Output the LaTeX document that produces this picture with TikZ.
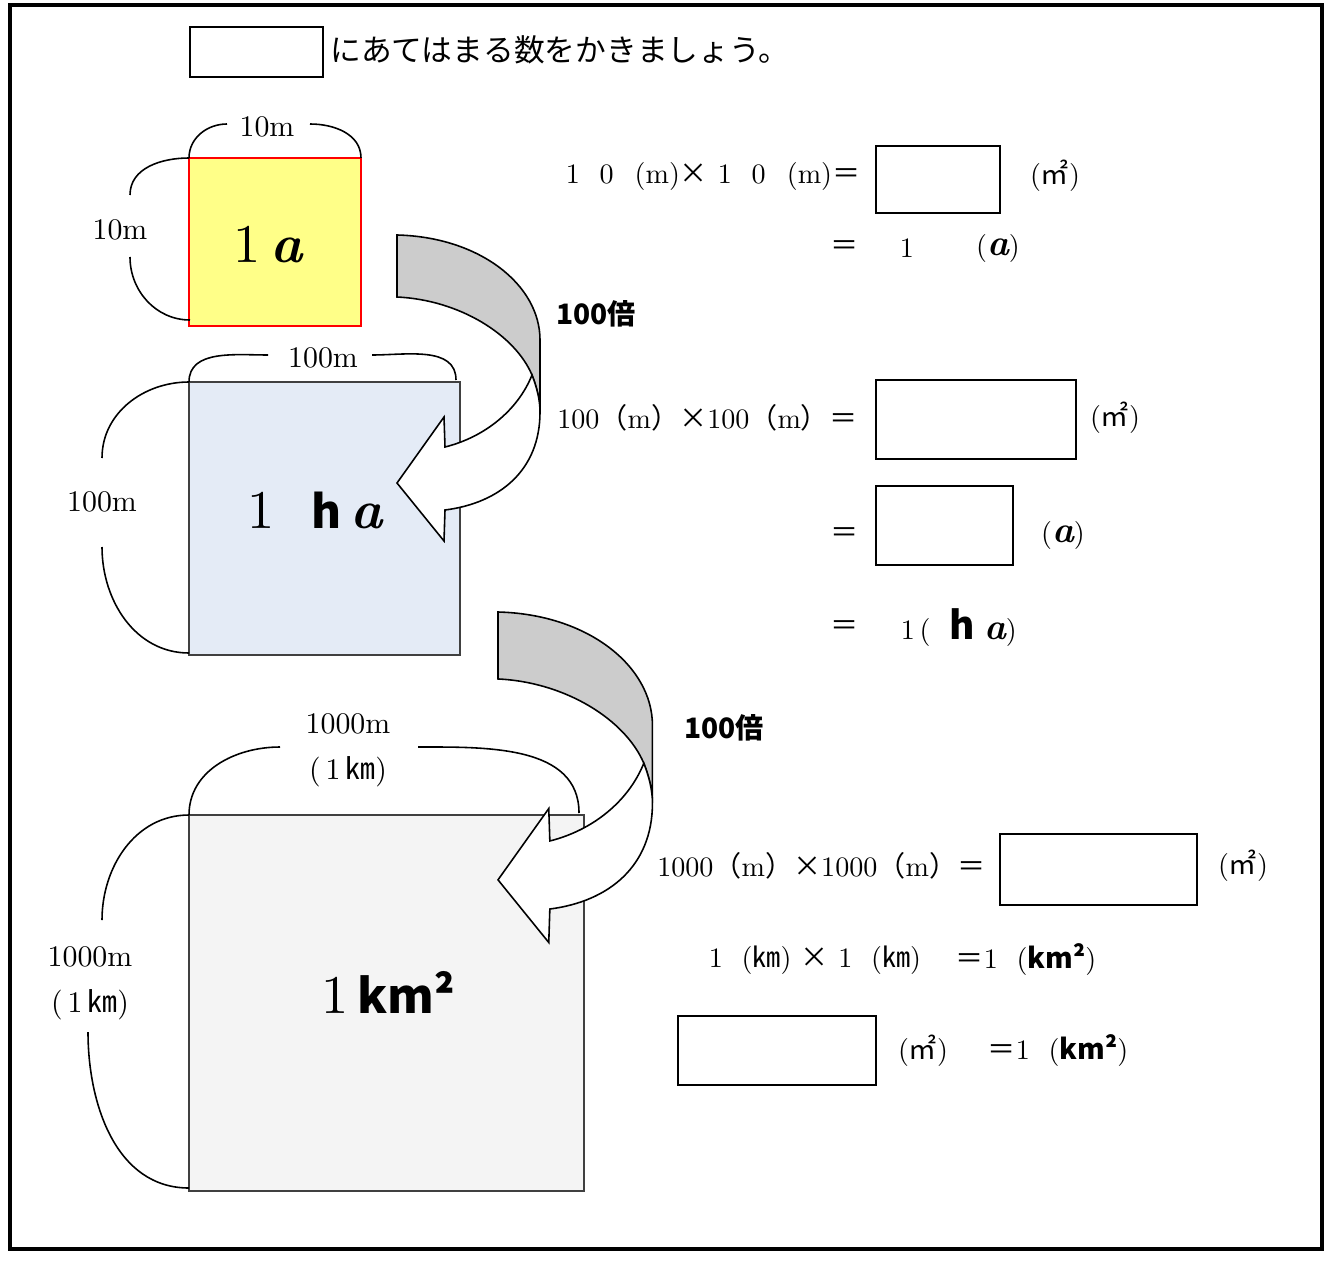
\documentclass[tikz,border=0pt]{standalone}
\usepackage{fontspec}
\setmainfont{lmroman10-regular.otf}[BoldFont=lmroman10-bold.otf, ItalicFont=lmroman10-italic.otf, BoldItalicFont=lmroman10-bolditalic.otf]
\newfontfamily\cjk{Noto Sans CJK JP}
\usetikzlibrary{positioning}
\definecolor{squareyellow}{HTML}{FFFF88}
\definecolor{squareblue}{HTML}{E4EBF6}
\definecolor{squaregray}{HTML}{F4F4F4}
\definecolor{backgray}{HTML}{CCCCCC}
\definecolor{edgegray}{HTML}{404040}
\newcommand{\px}{0.02cm}
\newcommand{\zlp}{{\cjk （}}
\newcommand{\zrp}{{\cjk ）}}
\newcommand{\zeq}{{\cjk ＝}}
\newcommand{\ztimes}{{\cjk ×}}
\newcommand{\sqm}{{\cjk ㎡}}
\newcommand{\kmc}{{\cjk ㎞}}
\newcommand{\kmsq}{{\cjk\bfseries km²}}
\newcommand{\zdig}[1]{\makebox[1.2em]{#1}}
\newcommand{\aunit}{{\fontsize{21}{24}\selectfont\bfseries\itshape a}}
\newcommand{\hunit}{{\cjk\bfseries\fontsize{22}{24}\selectfont h}}
% curved arrow, drawn at (#1) with scale #2
\newcommand{\bendarrow}[2]{%
  \begin{scope}[shift={#1}, scale=#2]
    \filldraw[fill=backgray] (0,0) .. controls (83,2) and (143,50) .. (143,105) -- (143,177)
      .. controls (143,165) and (140,153) .. (135,140) .. controls (118,100) and (63,65) .. (0,62) -- cycle;
    \filldraw[fill=white] (48,212) .. controls (88,202) and (121,175) .. (135,140)
      .. controls (140,153) and (143,165) .. (143,177) .. controls (143,235) and (103,268) .. (48,275)
      -- (47,306) -- (0,248) -- (47,182) -- cycle;
  \end{scope}}

\begin{document}
\begin{tikzpicture}[x=0.02cm, y=-0.02cm, line width=0.9pt,
  ansbox/.style={draw, line width=1pt, inner sep=0pt, outer sep=0pt},
  area/.style={draw=edgegray, inner sep=0pt, outer sep=0pt},
  dimtext/.style={font=\fontsize{17}{26}\selectfont, inner sep=0pt, align=center},
  eqtext/.style={font=\fontsize{16}{18}\selectfont, inner sep=0pt},
  bigtext/.style={font=\fontsize{31}{36}\selectfont, inner sep=0pt},
  timestext/.style={font=\cjk\bfseries\fontsize{16}{20}\selectfont, inner sep=0pt}]

  \useasboundingbox (0,0) rectangle (1327,1260);
  \draw[line width=1.8pt] (10,5) rectangle (1322,1249);

  % task line
  \node[ansbox, minimum width=133*\px, minimum height=50*\px] (blank) at (256.5,52) {};
  \node[anchor=west, font=\cjk\fontsize{17.5}{20}\selectfont, inner sep=0pt] (task) at (330,50) {にあてはまる数をかきましょう。};

  % the three squares
  \node[area, draw=red, line width=0.7pt, fill=squareyellow, minimum width=172*\px, minimum height=168*\px] (sqA) at (275,242) {};
  \node[area, line width=0.7pt, fill=squareblue, minimum width=271*\px, minimum height=273*\px] (sqB) at (324.5,518.5) {};
  \node[area, line width=1.2pt, fill=squaregray, minimum width=395*\px, minimum height=376*\px] (sqC) at (386.5,1003) {};

  \node[bigtext] (lblA) at (268,245) {1\,{\bfseries\itshape a}};
  \node[bigtext] (lblB) at (315,510) {1\ \ {\cjk\bfseries\fontsize{26}{30}\selectfont h}\,{\bfseries\itshape a}};
  \node[bigtext] (lblC) at (388,992) {1\,{\cjk\bfseries\fontsize{27}{30}\selectfont km²}};

  % side lengths
  \node[dimtext] (wA) at (267,127) {10m};
  \node[dimtext] (hA) at (120,230) {10m};
  \node[dimtext] (wB) at (323,358) {100m};
  \node[dimtext] (hB) at (102,502) {100m};
  \node[dimtext] (wC) at (348,750) {1000m\\(\,1\,\kmc)};
  \node[dimtext] (hC) at (90,983) {1000m\\(\,1\,\kmc)};

  \coordinate (wA1) at (227,124);  \coordinate (wA2) at (310,124);
  \coordinate (hA1) at (130,195);  \coordinate (hA2) at (130,257);  \coordinate (hA3) at (190,320);
  \coordinate (wB1) at (268,355);  \coordinate (wB2) at (372,355);  \coordinate (wB3) at (456,380);
  \coordinate (hB1) at (102,458);  \coordinate (hB2) at (102,547);  \coordinate (hB3) at (189,653);
  \coordinate (wC1) at (280,747);  \coordinate (wC2) at (418,747);  \coordinate (wC3) at (579,813);
  \coordinate (hC1) at (102,920);  \coordinate (hC2) at (88,1032);  \coordinate (hC3) at (189,1188);

  \draw (sqA.north west) to[out=90,in=180] (wA1);
  \draw (wA2) to[out=0,in=90] (sqA.north east);
  \draw (sqA.north west) to[out=180,in=90] (hA1);
  \draw (hA2) to[out=-90,in=180] (hA3);
  \draw (sqB.north west) to[out=90,in=180] (wB1);
  \draw (wB2) to[out=0,in=90] (wB3);
  \draw (sqB.north west) to[out=180,in=90] (hB1);
  \draw (hB2) to[out=-90,in=180] (hB3);
  \draw (sqC.north west) to[out=90,in=180] (wC1);
  \draw (wC2) to[out=0,in=90] (wC3);
  \draw (sqC.north west) to[out=180,in=90] (hC1);
  \draw (hC2) to[out=-90,in=180] (hC3);

  % arrows
  \bendarrow{(397,235)}{1}
  \bendarrow{(498,612)}{1.08}
  \node[timestext] (timesA) at (596,314) {100倍};
  \node[timestext] (timesB) at (724,728) {100倍};

  % answer boxes
  \node[ansbox, minimum width=124*\px, minimum height=67*\px] (boxA) at (938,179.5) {};
  \node[ansbox, minimum width=200*\px, minimum height=79*\px] (boxB) at (976,419.5) {};
  \node[ansbox, minimum width=137*\px, minimum height=79*\px] (boxC) at (944.5,525.5) {};
  \node[ansbox, minimum width=197*\px, minimum height=71*\px] (boxD) at (1098.5,869.5) {};
  \node[ansbox, minimum width=198*\px, minimum height=69*\px] (boxE) at (777,1050.5) {};

  % 1 a
  \node[eqtext, anchor=east] (eqA) at (861,176) {\zdig{1}\zdig{0}\hspace{0.4em}(m)\ztimes\zdig{1}\zdig{0}\hspace{0.4em}(m)\zeq};
  \node[eqtext] (unitA) at (1055,176) {(\sqm)};
  \node[eqtext] (eqA2) at (845,248) {\zeq};
  \node[eqtext] (numA) at (907,248) {1};
  \node[eqtext] (unitA2) at (998,248) {(\aunit)};

  % 1 ha
  \node[eqtext, anchor=east] (eqB) at (858,418) {100\zlp m\zrp\ztimes 100\zlp m\zrp\zeq};
  \node[eqtext] (unitB) at (1115,418) {(\sqm)};
  \node[eqtext] (eqB2) at (845,535) {\zeq};
  \node[eqtext] (unitB2) at (1063,535) {(\aunit)};
  \node[eqtext] (eqB3) at (845,628) {\zeq};
  \node[eqtext, anchor=west] (numB) at (900,628) {1\,(\ \ \hunit\ \aunit)};

  % 1 km2
  \node[eqtext, anchor=east] (eqC) at (986,866) {1000\zlp m\zrp\ztimes 1000\zlp m\zrp\zeq};
  \node[eqtext] (unitC) at (1243,866) {(\sqm)};
  \node[eqtext, anchor=west] (eqC2) at (708,960) {1\ \ (\kmc)\ \ztimes\ 1\ \ (\kmc)};
  \node[eqtext, anchor=west] (eqC3) at (955,960) {\zeq 1\ \ (\kmsq)};
  \node[eqtext] (unitC2) at (923,1051) {(\sqm)};
  \node[eqtext, anchor=west] (eqC4) at (987,1051) {\zeq 1\ \ (\kmsq)};
\end{tikzpicture}
\end{document}
